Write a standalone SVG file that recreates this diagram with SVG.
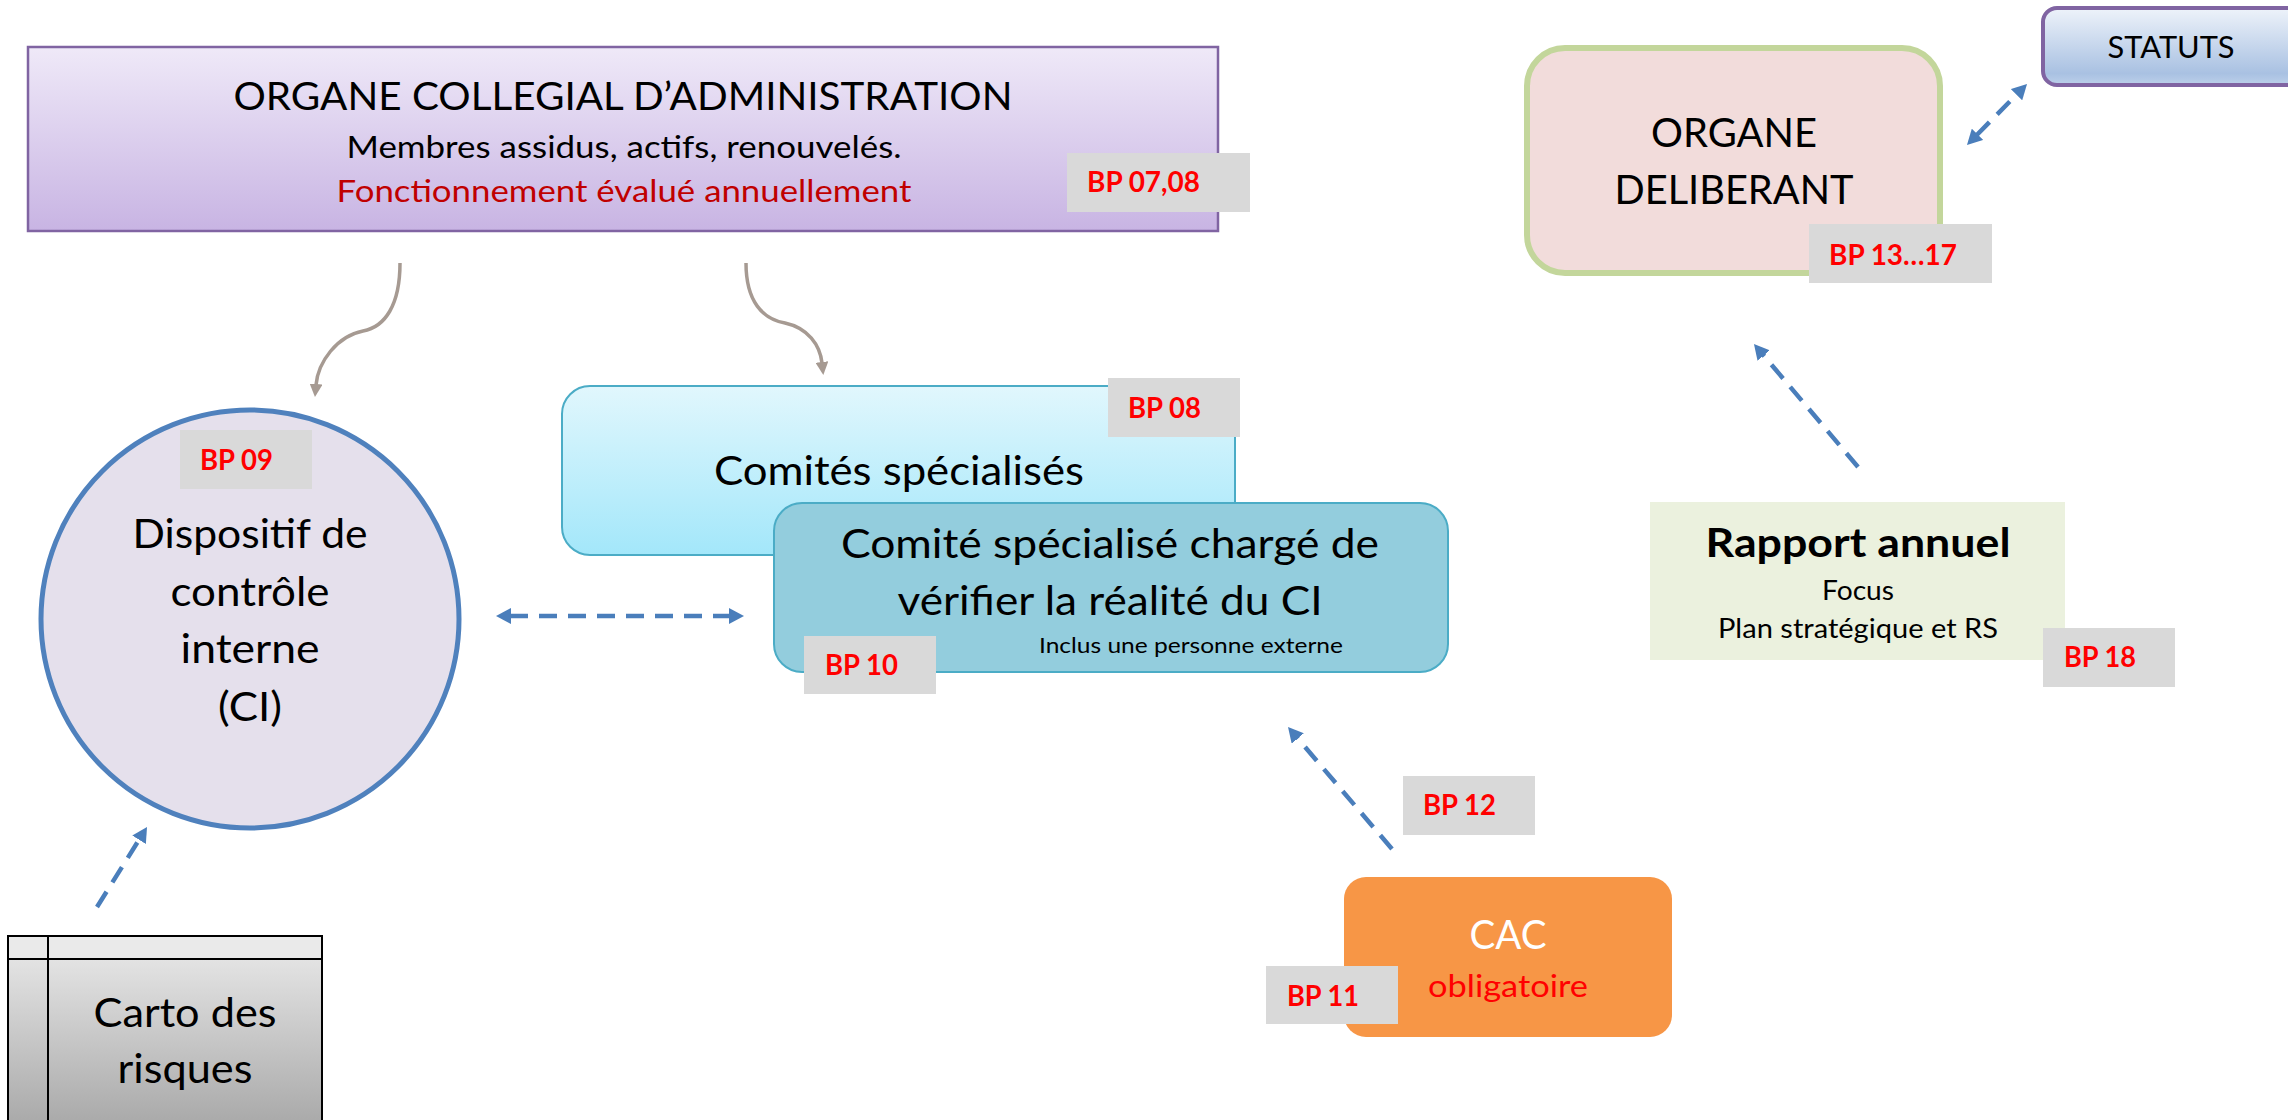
<svg xmlns="http://www.w3.org/2000/svg" width="2288" height="1120" viewBox="0 0 2288 1120">
  <style>
    text { font-family: Lato, "Liberation Sans", "DejaVu Sans", sans-serif; fill: #000; }
    .c { text-anchor: middle; }
    .bp rect { fill: #D9D9D9; }
    .bp text { font-weight: bold; font-size: 28px; fill: #FF0000; }
    .dash { fill: none; stroke: #4A7EBB; stroke-width: 4.5; stroke-dasharray: 18 11; }
    .curve { fill: none; stroke: #A69A92; stroke-width: 3.5; }
  </style>
  <defs>
    <linearGradient id="gPurple" x1="0" y1="0" x2="0" y2="1">
      <stop offset="0" stop-color="#EFE9F8"/>
      <stop offset="1" stop-color="#C8B4E3"/>
    </linearGradient>
    <linearGradient id="gStatuts" x1="0" y1="0" x2="0" y2="1">
      <stop offset="0" stop-color="#EEF3FA"/>
      <stop offset="0.85" stop-color="#A9C1E2"/>
      <stop offset="1" stop-color="#BCD0EA"/>
    </linearGradient>
    <linearGradient id="gCyan" x1="0" y1="0" x2="0" y2="1">
      <stop offset="0" stop-color="#E1F7FD"/>
      <stop offset="1" stop-color="#A3E7FA"/>
    </linearGradient>
    <linearGradient id="gGray" x1="0" y1="0" x2="0" y2="1">
      <stop offset="0" stop-color="#EBEBEB"/>
      <stop offset="1" stop-color="#A5A5A5"/>
    </linearGradient>
    <marker id="blueHead" viewBox="0 0 15 16" markerWidth="15" markerHeight="16" markerUnits="userSpaceOnUse" refX="1" refY="8" orient="auto-start-reverse">
      <path d="M0,0 L15,8 L0,16 Z" fill="#4A7EBB"/>
    </marker>
    <marker id="grayHead" viewBox="0 0 13 13" markerWidth="13" markerHeight="13" markerUnits="userSpaceOnUse" refX="1" refY="6.5" orient="auto">
      <path d="M0,0 L13,6.5 L0,13 Z" fill="#A69A92"/>
    </marker>
  </defs>

  <!-- Administration board -->
  <g id="organe-collegial">
    <rect x="28" y="47" width="1190" height="184" fill="url(#gPurple)" stroke="#8064A2" stroke-width="2.5"/>
    <text class="c" x="623" y="110" font-size="38" textLength="779" lengthAdjust="spacingAndGlyphs">ORGANE COLLEGIAL D’ADMINISTRATION</text>
    <text class="c" x="624" y="158" font-size="30" textLength="555" lengthAdjust="spacingAndGlyphs">Membres assidus, actifs, renouvelés.</text>
    <text class="c" x="624" y="202" font-size="30" textLength="575" lengthAdjust="spacingAndGlyphs" style="fill:#C00000">Fonctionnement évalué annuellement</text>
  </g>
  <g id="bp-07-08" class="bp">
    <rect x="1067" y="153" width="183" height="59"/>
    <text x="1087" y="192" textLength="113" lengthAdjust="spacingAndGlyphs">BP 07,08</text>
  </g>

  <!-- Deliberative body -->
  <g id="organe-deliberant">
    <rect x="1527" y="48" width="413" height="225" rx="38" fill="#F2DCDB" stroke="#C3D69B" stroke-width="6"/>
    <text class="c" x="1734" y="147" font-size="40" textLength="166" lengthAdjust="spacingAndGlyphs">ORGANE</text>
    <text class="c" x="1734" y="204" font-size="40" textLength="239" lengthAdjust="spacingAndGlyphs">DELIBERANT</text>
  </g>
  <g id="bp-13-17" class="bp">
    <rect x="1809" y="224" width="183" height="59"/>
    <text x="1829" y="265" textLength="128" lengthAdjust="spacingAndGlyphs">BP 13…17</text>
  </g>

  <g id="statuts">
    <rect x="2043" y="8" width="262" height="77" rx="14" fill="url(#gStatuts)" stroke="#8064A2" stroke-width="4"/>
    <text class="c" x="2171" y="58" font-size="30" textLength="127" lengthAdjust="spacingAndGlyphs">STATUTS</text>
  </g>

  <!-- Internal control -->
  <g id="controle-interne">
    <circle cx="250" cy="619" r="209" fill="#E5E0EC" stroke="#4F81BD" stroke-width="5"/>
    <text class="c" x="250" y="548" font-size="40" textLength="235" lengthAdjust="spacingAndGlyphs">Dispositif de</text>
    <text class="c" x="250" y="606" font-size="40" textLength="159" lengthAdjust="spacingAndGlyphs">contrôle</text>
    <text class="c" x="250" y="663" font-size="40" textLength="139" lengthAdjust="spacingAndGlyphs">interne</text>
    <text class="c" x="250" y="721" font-size="40" textLength="64" lengthAdjust="spacingAndGlyphs">(CI)</text>
  </g>
  <g id="bp-09" class="bp">
    <rect x="180" y="430" width="132" height="59"/>
    <text x="200" y="470" textLength="73" lengthAdjust="spacingAndGlyphs">BP 09</text>
  </g>

  <!-- Committees -->
  <g id="comites-specialises">
    <rect x="562" y="386" width="673" height="169" rx="28" fill="url(#gCyan)" stroke="#4BACC6" stroke-width="2"/>
    <text class="c" x="899" y="485" font-size="40" textLength="370" lengthAdjust="spacingAndGlyphs">Comités spécialisés</text>
  </g>
  <g id="bp-08" class="bp">
    <rect x="1108" y="378" width="132" height="59"/>
    <text x="1128" y="418" textLength="73" lengthAdjust="spacingAndGlyphs">BP 08</text>
  </g>

  <g id="comite-ci">
    <rect x="774" y="503" width="674" height="169" rx="28" fill="#93CDDD" stroke="#4BACC6" stroke-width="2"/>
    <text class="c" x="1110" y="558" font-size="40" textLength="538" lengthAdjust="spacingAndGlyphs">Comité spécialisé chargé de</text>
    <text class="c" x="1110" y="615" font-size="40" textLength="425" lengthAdjust="spacingAndGlyphs">vérifier la réalité du CI</text>
    <text x="1039" y="653" font-size="21" textLength="304" lengthAdjust="spacingAndGlyphs">Inclus une personne externe</text>
  </g>
  <g id="bp-10" class="bp">
    <rect x="804" y="636" width="132" height="58"/>
    <text x="825" y="675" textLength="73" lengthAdjust="spacingAndGlyphs">BP 10</text>
  </g>

  <!-- Risk map -->
  <g id="carto-risques">
    <rect x="8" y="936" width="314" height="200" fill="url(#gGray)" stroke="#000" stroke-width="2"/>
    <rect x="9" y="937" width="312" height="22" fill="#EAEAEA"/>
    <line x1="8" y1="959" x2="322" y2="959" stroke="#000" stroke-width="2"/>
    <line x1="48" y1="936" x2="48" y2="1120" stroke="#000" stroke-width="2"/>
    <text class="c" x="185" y="1027" font-size="41" textLength="183" lengthAdjust="spacingAndGlyphs">Carto des</text>
    <text class="c" x="185" y="1083" font-size="41" textLength="135" lengthAdjust="spacingAndGlyphs">risques</text>
  </g>

  <!-- Statutory auditor -->
  <g id="cac">
    <rect x="1344" y="877" width="328" height="160" rx="22" fill="#F79646"/>
    <text class="c" x="1508" y="949" font-size="41" textLength="77" lengthAdjust="spacingAndGlyphs" style="fill:#FFFFFF">CAC</text>
    <text class="c" x="1508" y="997" font-size="30" textLength="160" lengthAdjust="spacingAndGlyphs" style="fill:#FF0000">obligatoire</text>
  </g>
  <g id="bp-11" class="bp">
    <rect x="1266" y="966" width="132" height="58"/>
    <text x="1287" y="1006" textLength="72" lengthAdjust="spacingAndGlyphs">BP 11</text>
  </g>
  <g id="bp-12" class="bp">
    <rect x="1403" y="776" width="132" height="59"/>
    <text x="1423" y="815" textLength="73" lengthAdjust="spacingAndGlyphs">BP 12</text>
  </g>

  <!-- Annual report -->
  <g id="rapport-annuel">
    <rect x="1650" y="502" width="415" height="158" fill="#EBF1DE"/>
    <text class="c" x="1858" y="557" font-size="40" font-weight="bold" textLength="305" lengthAdjust="spacingAndGlyphs">Rapport annuel</text>
    <text class="c" x="1858" y="600" font-size="26" textLength="72" lengthAdjust="spacingAndGlyphs">Focus</text>
    <text class="c" x="1858" y="638" font-size="26" textLength="280" lengthAdjust="spacingAndGlyphs">Plan stratégique et RS</text>
  </g>
  <g id="bp-18" class="bp">
    <rect x="2043" y="628" width="132" height="59"/>
    <text x="2064" y="667" textLength="72" lengthAdjust="spacingAndGlyphs">BP 18</text>
  </g>

  <!-- Connectors -->
  <g id="connectors">
    <path class="curve" d="M400,263 C400,305 385,327 363,331 C337,336 318,362 316,385" marker-end="url(#grayHead)"/>
    <path class="curve" d="M746,263 C746,302 763,319 785,323 C808,328 820,345 822,363" marker-end="url(#grayHead)"/>
    <line class="dash" x1="510" y1="616" x2="730" y2="616" marker-start="url(#blueHead)" marker-end="url(#blueHead)"/>
    <line class="dash" x1="1976.8" y1="135" x2="2017.2" y2="94" marker-start="url(#blueHead)" marker-end="url(#blueHead)"/>
    <line class="dash" x1="97" y1="907" x2="139.6" y2="838.9" marker-end="url(#blueHead)"/>
    <line class="dash" x1="1858" y1="467" x2="1763" y2="354.7" marker-end="url(#blueHead)"/>
    <line class="dash" x1="1392" y1="849" x2="1297.1" y2="737.7" marker-end="url(#blueHead)"/>
  </g>
</svg>
